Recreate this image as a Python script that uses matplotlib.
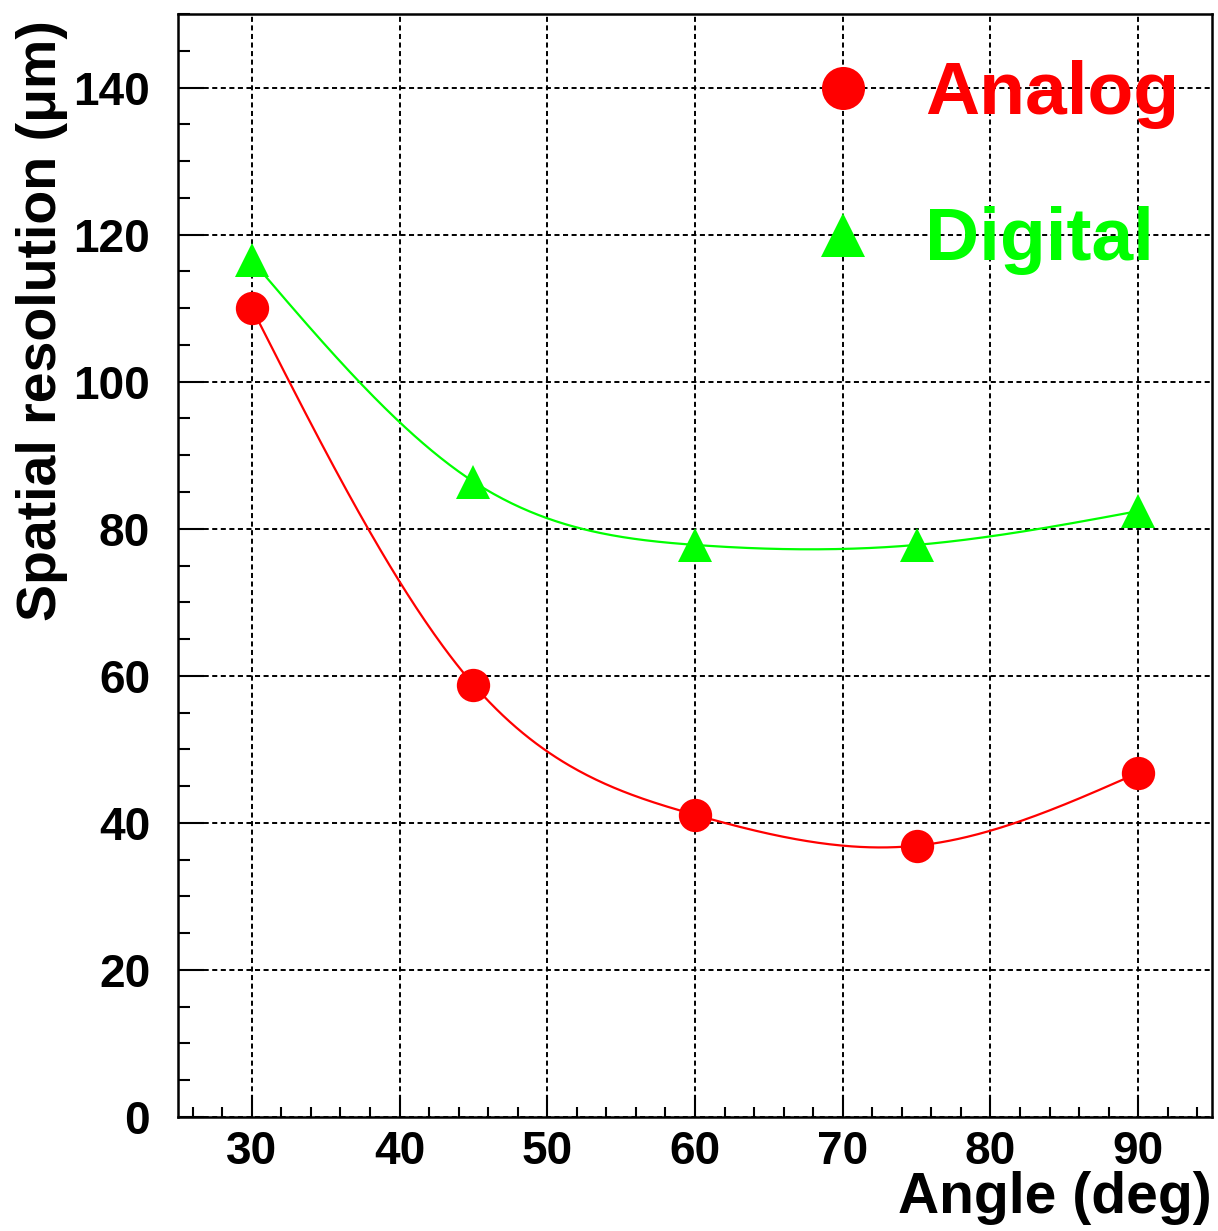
import matplotlib
matplotlib.use("Agg")
import matplotlib.pyplot as plt
import numpy as np
from matplotlib.ticker import MultipleLocator

# measured spatial resolution vs. track angle
angles = [30, 45, 60, 75, 90]
analog = [110.0, 58.8, 41.1, 36.9, 46.8]
digital = [116.5, 86.4, 77.8, 77.8, 82.4]

RED = "#ff0000"
GREEN = "#00ff00"
FONT = "Liberation Sans"


def natural_spline(x, y, xs):
    """Natural cubic spline through (x, y), evaluated at xs."""
    x = np.asarray(x, float)
    y = np.asarray(y, float)
    n = len(x)
    h = np.diff(x)
    a = np.zeros((n, n))
    b = np.zeros(n)
    a[0, 0] = a[-1, -1] = 1.0
    for i in range(1, n - 1):
        a[i, i - 1] = h[i - 1]
        a[i, i] = 2 * (h[i - 1] + h[i])
        a[i, i + 1] = h[i]
        b[i] = 6 * ((y[i + 1] - y[i]) / h[i] - (y[i] - y[i - 1]) / h[i - 1])
    m = np.linalg.solve(a, b)
    idx = np.clip(np.searchsorted(x, xs) - 1, 0, n - 2)
    t0 = x[idx + 1] - xs
    t1 = xs - x[idx]
    hi = h[idx]
    return (m[idx] * t0**3 / (6 * hi) + m[idx + 1] * t1**3 / (6 * hi)
            + (y[idx] / hi - m[idx] * hi / 6) * t0
            + (y[idx + 1] / hi - m[idx + 1] * hi / 6) * t1)


plt.rcParams.update({
    "font.family": FONT,
    "font.weight": "bold",
})

fig = plt.figure(figsize=(12.18, 12.31), dpi=100)
ax = fig.add_axes([178 / 1218, 1 - 1117 / 1231, (1212 - 178) / 1218, (1117 - 14) / 1231])

xs = np.linspace(angles[0], angles[-1], 400)
ax.plot(xs, natural_spline(angles, digital, xs), color=GREEN, lw=1.6, zorder=3)
ax.plot(xs, natural_spline(angles, analog, xs), color=RED, lw=1.6, zorder=3)
ax.plot(angles, digital, "^", color=GREEN, ms=24, mew=0, zorder=4)
ax.plot(angles, analog, "o", color=RED, ms=24, mew=0, zorder=4)

ax.set_xlim(25, 95)
ax.set_ylim(0, 150)
ax.xaxis.set_major_locator(MultipleLocator(10))
ax.xaxis.set_minor_locator(MultipleLocator(2))
ax.yaxis.set_major_locator(MultipleLocator(20))
ax.yaxis.set_minor_locator(MultipleLocator(5))

ax.grid(which="major", color="black", lw=1.4, linestyle=(0, (2.6, 1.8)), zorder=1)
ax.set_axisbelow(True)

ax.tick_params(axis="x", which="major", direction="in", length=16, width=1.5,
               pad=9, labelsize=33)
ax.tick_params(axis="x", which="minor", direction="in", length=7.5, width=1.5)
ax.tick_params(axis="y", which="major", direction="in", length=19, width=1.5,
               pad=20, labelsize=33)
ax.tick_params(axis="y", which="minor", direction="in", length=8.5, width=1.5)
for lab in ax.get_xticklabels() + ax.get_yticklabels():
    lab.set_fontweight("bold")
for spine in ax.spines.values():
    spine.set_linewidth(1.8)
    spine.set_color("black")

# legend entries drawn in data space
ax.plot([70], [140], "o", color=RED, ms=31, mew=0, zorder=5)
ax.plot([70], [120], "^", color=GREEN, ms=31, mew=0, zorder=5)
ax.text(75.6, 136.4, "Analog", color=RED, fontsize=54, fontweight="bold",
        va="baseline", ha="left", zorder=5)
ax.text(75.6, 116.5, "Digital", color=GREEN, fontsize=54, fontweight="bold",
        va="baseline", ha="left", zorder=5)

fig.text(1212 / 1218, 6 / 1231, "Angle (deg)", fontsize=41, fontweight="bold",
         ha="right", va="bottom")
fig.text(42 / 1218, 1 - 20 / 1231, "Spatial resolution (\u03bcm)", fontsize=40,
         fontweight="bold", rotation=90, ha="center", va="top")

fig.savefig("out.png", dpi=100)
